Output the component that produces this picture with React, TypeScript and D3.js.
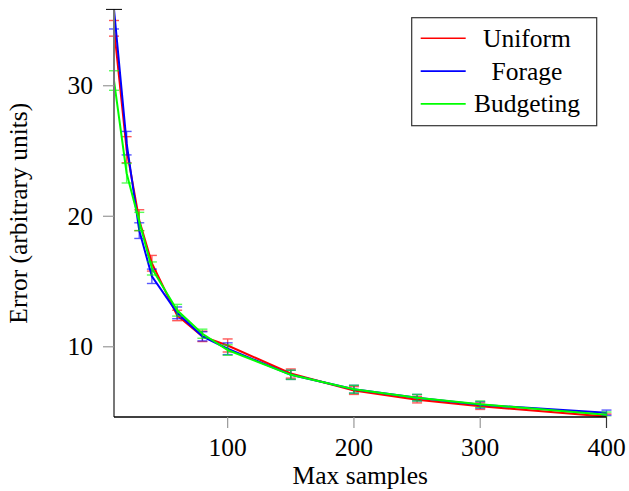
import React, { useEffect, useRef } from "react";
import * as d3 from "d3";

const maxSamples = [10, 20, 30, 40, 60, 80, 100, 150, 200, 250, 300, 400];

const uniformErr = [34.4, 25.1, 19.7, 16.4, 12.4, 10.8, 10.1, 7.95, 6.65, 5.95, 5.45, 4.65];
const uniformDev = [0.6, 1.0, 0.8, 0.6, 0.4, 0.4, 0.5, 0.35, 0.3, 0.25, 0.25, 0.2];

const forageErr = [35.85, 25.6, 18.9, 15.4, 12.6, 10.8, 9.85, 7.85, 6.75, 6.1, 5.55, 4.95];
const forageDev = [1.5, 0.9, 0.6, 0.55, 0.45, 0.35, 0.45, 0.35, 0.3, 0.25, 0.25, 0.2];

const budgetingErr = [30.4, 23.3, 19.6, 16.0, 12.8, 11.0, 9.75, 7.85, 6.75, 6.1, 5.6, 4.8];
const budgetingDev = [0.75, 0.75, 0.7, 0.5, 0.45, 0.35, 0.4, 0.35, 0.3, 0.25, 0.25, 0.2];

const xTicks = [100, 200, 300, 400];
const yTicks = [10, 20, 30];

const seriesNames = ["Uniform", "Forage", "Budgeting"];
const seriesColors = ["#ff0000", "#0000ff", "#00ff00"];

export default function App() {
    const svgRef = useRef(null);
    const width = 629;
    const height = 491;

    useEffect(() => {
        const left = 114, right = 606.5, top = 9.4, bottom = 417;
        const font = "'Liberation Serif', 'Times New Roman', serif";

        const svg = d3.select(svgRef.current)
            .attr("width", width)
            .attr("height", height);
        svg.selectAll("*").remove();

        const x = d3.scaleLinear().domain([10, 400]).range([left, right]);
        const y = d3.scaleLinear().domain([4.62, 35.85]).range([bottom, top]);

        svg.append("defs").append("clipPath").attr("id", "plot-clip")
            .append("rect")
            .attr("x", left - 8).attr("y", top)
            .attr("width", right - left + 16).attr("height", bottom - top);

        const series = [
            { name: seriesNames[0], color: seriesColors[0], vals: uniformErr, dev: uniformDev },
            { name: seriesNames[1], color: seriesColors[1], vals: forageErr, dev: forageDev },
            { name: seriesNames[2], color: seriesColors[2], vals: budgetingErr, dev: budgetingDev },
        ];

        const plot = svg.append("g").attr("clip-path", "url(#plot-clip)");
        const line = d3.line<number>()
            .x((_, i) => x(maxSamples[i]))
            .y(d => y(d));

        series.forEach(s => {
            const g = plot.append("g");
            // error bars
            s.vals.forEach((v, i) => {
                const cx = x(maxSamples[i]);
                const y0 = y(v - s.dev[i]);
                const y1 = y(v + s.dev[i]);
                const eb = g.append("g")
                    .attr("stroke", s.color)
                    .attr("stroke-width", 1.4)
                    .attr("opacity", 0.65);
                eb.append("line").attr("x1", cx).attr("x2", cx).attr("y1", y0).attr("y2", y1);
                eb.append("line").attr("x1", cx - 5).attr("x2", cx + 5).attr("y1", y0).attr("y2", y0);
                eb.append("line").attr("x1", cx - 5).attr("x2", cx + 5).attr("y1", y1).attr("y2", y1);
            });
            g.append("path")
                .attr("d", line(s.vals))
                .attr("fill", "none")
                .attr("stroke", s.color)
                .attr("stroke-width", 2);
        });

        // axes
        svg.append("line")
            .attr("x1", left).attr("x2", left).attr("y1", top).attr("y2", bottom)
            .attr("stroke", "#777").attr("stroke-width", 2);
        svg.append("line")
            .attr("x1", left - 8).attr("x2", left + 8).attr("y1", top).attr("y2", top)
            .attr("stroke", "#000").attr("stroke-width", 1);
        svg.append("line")
            .attr("x1", left).attr("x2", right).attr("y1", bottom).attr("y2", bottom)
            .attr("stroke", "#000").attr("stroke-width", 1.3);

        yTicks.forEach(t => {
            svg.append("line")
                .attr("x1", left - 11).attr("x2", left).attr("y1", y(t)).attr("y2", y(t))
                .attr("stroke", "#999").attr("stroke-width", 1.2);
            svg.append("text")
                .attr("x", left - 21).attr("y", y(t) + 8.5)
                .attr("text-anchor", "end")
                .style("font-family", font).style("font-size", "25.5px")
                .text(t);
        });
        xTicks.forEach(t => {
            svg.append("line")
                .attr("x1", x(t)).attr("x2", x(t)).attr("y1", bottom).attr("y2", bottom + 11)
                .attr("stroke", t === 400 ? "#333" : "#999").attr("stroke-width", 1.2);
            svg.append("text")
                .attr("x", x(t)).attr("y", bottom + 38.5)
                .attr("text-anchor", "middle")
                .style("font-family", font).style("font-size", "25.5px")
                .text(t);
        });

        svg.append("text")
            .attr("x", (left + right) / 2).attr("y", 484)
            .attr("text-anchor", "middle")
            .style("font-family", font).style("font-size", "25.5px")
            .text("Max samples");

        svg.append("text")
            .attr("transform", `translate(27,${(top + bottom) / 2}) rotate(-90)`)
            .attr("text-anchor", "middle")
            .style("font-family", font).style("font-size", "25.5px")
            .text("Error (arbitrary units)");

        // legend
        const lg = svg.append("g");
        lg.append("rect")
            .attr("x", 411.7).attr("y", 17.7).attr("width", 185).attr("height", 108)
            .attr("fill", "#fff").attr("stroke", "#333").attr("stroke-width", 1.2);
        series.forEach((s, i) => {
            const ly = 38.3 + i * 32.8;
            lg.append("line")
                .attr("x1", 420.7).attr("x2", 465.7).attr("y1", ly).attr("y2", ly)
                .attr("stroke", s.color).attr("stroke-width", 1.6);
            lg.append("text")
                .attr("x", 527).attr("y", ly + 8.5)
                .attr("text-anchor", "middle")
                .style("font-family", font).style("font-size", "25.5px")
                .text(s.name);
        });
    }, []);

    return <svg ref={svgRef} style={{ position: "absolute", left: 0, top: 0 }} />;
}
